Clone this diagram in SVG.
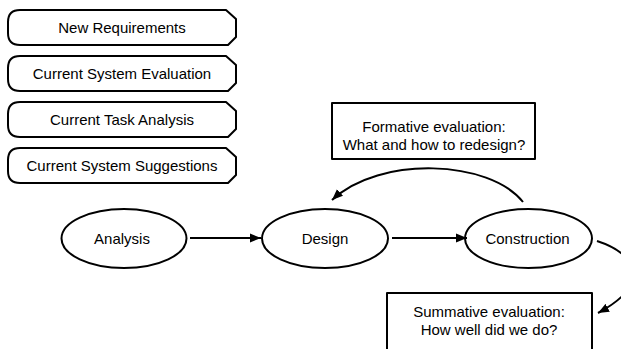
<svg xmlns="http://www.w3.org/2000/svg" width="621" height="349" viewBox="0 0 621 349">
<style>
.shape{fill:#fff;stroke:#000;stroke-width:2;stroke-linejoin:round}
.t{font-family:"Liberation Sans",Arial,sans-serif;font-size:15px;fill:#000;text-anchor:middle}
.conn{fill:none;stroke:#000;stroke-width:2}
</style>
<defs>
<marker id="ah" markerUnits="userSpaceOnUse" markerWidth="12" markerHeight="10" refX="11" refY="5" orient="auto">
<path d="M0,0.5 L11,5 L0,9.5 Z" fill="#000"/>
</marker>
</defs>
<g id="new-requirements">
<path class="shape" d="M20,10 H226 L236,19 V37 L228,45 H20 Q8,45 8,33 V22 Q8,10 20,10 Z"/>
<text class="t" x="122" y="33">New Requirements</text>
</g>
<g id="current-system-evaluation">
<path class="shape" d="M20,56 H226 L236,65 V83 L228,91 H20 Q8,91 8,79 V68 Q8,56 20,56 Z"/>
<text class="t" x="122" y="79">Current System Evaluation</text>
</g>
<g id="current-task-analysis">
<path class="shape" d="M20,102 H226 L236,111 V129 L228,137 H20 Q8,137 8,125 V114 Q8,102 20,102 Z"/>
<text class="t" x="122" y="125">Current Task Analysis</text>
</g>
<g id="current-system-suggestions">
<path class="shape" d="M20,148 H226 L236,157 V175 L228,183 H20 Q8,183 8,171 V160 Q8,148 20,148 Z"/>
<text class="t" x="122" y="171">Current System Suggestions</text>
</g>
<g id="analysis">
<ellipse class="shape" cx="124" cy="238.5" rx="62.5" ry="29.5"/>
<text class="t" x="122" y="244">Analysis</text>
</g>
<g id="design">
<ellipse class="shape" cx="325" cy="238.5" rx="63" ry="29.5"/>
<text class="t" x="325" y="244">Design</text>
</g>
<g id="construction">
<ellipse class="shape" cx="528.5" cy="238.5" rx="63.5" ry="29.5"/>
<text class="t" x="527.5" y="244">Construction</text>
</g>
<g id="formative-evaluation">
<rect class="shape" x="332" y="103" width="203" height="56"/>
<text class="t" x="434" y="131.5">Formative evaluation:</text>
<text class="t" x="434" y="150">What and how to redesign?</text>
</g>
<g id="summative-evaluation">
<rect class="shape" x="387" y="293" width="205" height="62"/>
<text class="t" x="489" y="317">Summative evaluation:</text>
<text class="t" x="489" y="335">How well did we do?</text>
</g>
<g id="connectors">
<path class="conn" d="M190,238 H261" marker-end="url(#ah)"/>
<path class="conn" d="M392,238 H467" marker-end="url(#ah)"/>
<path class="conn" d="M523,202 C490,160 380,155 332,200" marker-end="url(#ah)"/>
<path class="conn" d="M597,241 C640,255 650,285 598,313" marker-end="url(#ah)"/>
</g>
</svg>
